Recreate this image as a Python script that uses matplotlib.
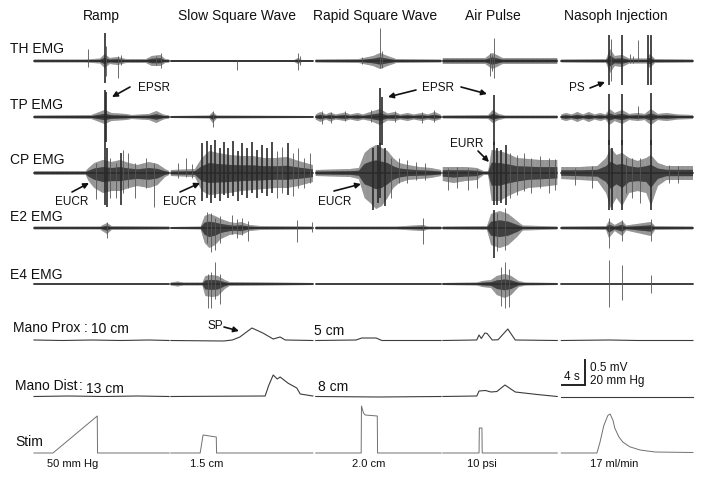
import numpy as np
import matplotlib.pyplot as plt

plt.rcParams['font.family'] = ['Liberation Sans', 'DejaVu Sans']
plt.rcParams['hatch.linewidth'] = 0.5

# panels (time in s, one continuous axis, small gaps between panels)
col_titles = ['Ramp', 'Slow Square Wave', 'Rapid Square Wave', 'Air Pulse', 'Nasoph Injection']
col_start = [0.0, 23.8, 49.0, 71.1, 91.7]
col_end = [23.5, 48.5, 70.8, 91.0, 114.6]
stim_labels = ['50 mm Hg', '1.5 cm', '2.0 cm', '10 psi', '17 ml/min']
row_labels = ['TH EMG', 'TP EMG', 'CP EMG', 'E2 EMG', 'E4 EMG']

# EMG envelopes: (time s, amplitude up mV, amplitude down mV)
th_env = [(0.0, .03, .03), (9.0, .03, .03), (11.5, .05, .05), (12.3, .14, .14), (13.2, .06, .06),
          (14.5, .08, .08), (16.0, .04, .04), (19.5, .04, .04), (20.5, .10, .10), (22.0, .12, .10),
          (22.8, .04, .04), (23.5, .03, .03),
          (23.8, .02, .02), (45.3, .02, .02), (45.9, .06, .06), (46.6, .02, .02), (48.5, .02, .02),
          (49.0, .03, .03), (56.5, .04, .04), (59.0, .10, .10), (60.2, .16, .16), (61.5, .10, .10),
          (63.0, .04, .04), (70.8, .03, .03),
          (71.1, .06, .06), (78.5, .06, .06), (79.7, .16, .16), (80.5, .12, .12), (81.5, .06, .06),
          (91.0, .06, .06),
          (91.7, .03, .03), (99.5, .04, .04), (100.2, .24, .24), (101.0, .10, .10), (102.3, .12, .12),
          (103.5, .05, .05), (106.6, .05, .05), (107.1, .14, .14), (108.0, .04, .04), (114.6, .03, .03)]
th_spk = [(9.4, .24, .12), (12.3, .56, .44), (12.6, .3, .3), (14.6, .1, .34), (15.1, .12, .08),
          (21.3, .1, .08), (22.1, .16, .14),
          (35.3, .02, .18), (45.9, .16, .18), (46.2, .1, .08),
          (57.0, .08, .06), (60.2, .66, .14), (60.5, .2, .14),
          (79.3, .16, .3), (79.6, .12, .2), (80.0, .46, .34),
          (100.0, .52, .48), (100.4, .45, .4), (102.3, .52, .48), (103.6, .14, .04), (104.2, .1, .04),
          (105.0, .42, .02), (106.8, .52, .48), (107.3, .52, .48)]

tp_env = [(0.0, .03, .03), (10.0, .04, .04), (12.3, .14, .14), (13.5, .08, .08), (16.0, .06, .06),
          (17.0, .04, .04), (20.0, .06, .06), (21.3, .12, .12), (22.5, .05, .05), (23.5, .03, .03),
          (23.8, .02, .02), (30.5, .03, .03), (31.1, .10, .12), (31.8, .03, .03), (48.5, .02, .02),
          (49.0, .05, .05), (49.8, .10, .10), (50.8, .05, .05), (51.5, .09, .09), (52.5, .05, .05),
          (54.1, .09, .08), (55.0, .05, .05), (56.3, .08, .08), (57.2, .05, .05), (58.5, .10, .08),
          (60.2, .16, .16), (61.5, .07, .07), (62.8, .10, .08), (63.7, .05, .05), (65.0, .08, .08),
          (66.0, .05, .05), (67.5, .08, .08), (68.5, .05, .05), (69.7, .10, .08), (70.8, .04, .04),
          (71.1, .03, .03), (79.0, .04, .04), (79.8, .14, .12), (80.8, .06, .06), (82.0, .03, .03),
          (91.0, .03, .03),
          (91.7, .05, .05), (92.5, .08, .08), (93.5, .05, .05), (94.5, .10, .10), (95.5, .05, .05),
          (96.5, .10, .10), (97.5, .05, .05), (98.5, .08, .08), (99.4, .05, .05), (100.1, .16, .16),
          (101.0, .08, .08), (102.3, .14, .14), (103.5, .06, .06), (105.0, .08, .08), (106.2, .06, .06),
          (107.3, .16, .16), (108.5, .06, .06), (110.0, .08, .08), (112.0, .05, .05), (114.6, .04, .04)]
tp_spk = [(12.3, .54, .56), (12.5, .5, .5), (31.1, .12, .2), (50.0, .12, .14), (51.6, .1, .12),
          (54.0, .12, .08), (58.6, .14, .1), (60.2, .58, .56), (60.5, .4, .56), (62.8, .12, .1),
          (67.4, .1, .12), (69.6, .14, .1),
          (80.0, .44, .56), (100.0, .46, .56), (102.3, .46, .56), (105.0, .22, .04), (107.3, .48, .56)]

cp_env = [(0.0, .04, .04), (9.0, .04, .04), (9.5, .10, .16), (10.5, .20, .30), (12.0, .26, .40),
          (13.5, .22, .36), (15.0, .26, .36), (16.5, .20, .30), (18.0, .16, .26), (20.0, .22, .30),
          (21.5, .18, .24), (22.8, .08, .08), (23.5, .04, .04),
          (23.8, .06, .06), (28.0, .08, .08), (29.2, .30, .36), (30.5, .44, .44), (32.0, .40, .42),
          (34.0, .36, .40), (36.0, .34, .36), (38.0, .34, .34), (40.0, .30, .32), (42.0, .30, .30),
          (44.0, .32, .30), (46.0, .24, .26), (48.5, .16, .18),
          (49.0, .06, .06), (55.0, .08, .08), (56.5, .10, .12), (57.5, .40, .50), (58.5, .50, .60),
          (59.5, .56, .72), (60.5, .50, .66), (61.5, .44, .50), (62.5, .30, .30), (63.5, .20, .20),
          (65.0, .16, .14), (67.0, .12, .12), (69.0, .10, .10), (70.8, .06, .06),
          (71.1, .12, .16), (73.0, .12, .20), (75.0, .12, .16), (77.0, .10, .14), (78.2, .04, .04),
          (79.0, .04, .04), (79.6, .46, .56), (81.0, .44, .56), (82.5, .38, .46), (84.0, .30, .38),
          (86.0, .28, .30), (88.0, .26, .28), (91.0, .26, .24),
          (91.7, .12, .12), (95.0, .12, .14), (98.0, .14, .16), (99.5, .30, .40), (100.3, .50, .70),
          (101.3, .36, .50), (102.3, .40, .66), (103.5, .30, .40), (105.0, .24, .36), (106.5, .30, .40),
          (107.3, .36, .66), (108.5, .20, .26), (110.0, .14, .14), (114.6, .14, .14)]
cp_spk = [(10.8, .2, .52), (12.3, .56, .64), (12.7, .5, .68), (13.2, .3, .5), (14.2, .2, .5),
          (15.1, .4, .64), (15.5, .46, .4), (16.3, .4, .3), (17.5, .2, .5), (19.5, .3, .3), (20.9, .2, .68),
          (25.0, .2, .1), (26.5, .3, .08), (27.5, .18, .1),
          (29.3, .6, .56), (30.0, .64, .5), (30.8, .56, .6), (31.5, .66, .5), (32.3, .5, .56),
          (33.0, .62, .44), (33.8, .5, .5), (34.6, .64, .46), (35.4, .44, .56), (36.2, .6, .44),
          (37.0, .5, .5), (37.9, .62, .4), (38.8, .46, .5), (39.6, .56, .4), (40.5, .5, .46),
          (41.4, .62, .4), (42.3, .44, .5), (43.2, .52, .4), (44.1, .6, .44), (45.0, .4, .46),
          (45.9, .5, .3), (47.0, .3, .3), (48.0, .4, .2),
          (59.0, .5, .74), (59.8, .56, .6), (60.2, .6, .5), (61.0, .5, .66), (62.0, .3, .5),
          (63.5, .3, .2), (64.8, .26, .2), (66.5, .22, .14), (68.0, .2, .14),
          (72.0, .1, .34), (73.5, .12, .3), (75.5, .1, .34), (77.0, .08, .3), (80.0, .62, .64),
          (80.6, .5, .64), (81.3, .46, .6), (82.0, .56, .64), (82.8, .4, .5), (84.0, .36, .44),
          (85.3, .4, .36), (86.5, .3, .4), (88.0, .34, .3), (89.5, .3, .4), (90.6, .28, .34),
          (94.0, .1, .24), (97.0, .14, .3), (100.0, .66, .74), (100.5, .5, .74), (102.3, .66, .74),
          (103.0, .3, .4), (104.0, .3, .5), (105.4, .3, .6), (107.3, .66, .74), (110.5, .16, .2),
          (112.0, .14, .2)]

e2_env = [(0.0, .03, .03), (11.5, .03, .03), (12.7, .10, .12), (13.5, .04, .04), (23.5, .03, .03),
          (23.8, .02, .02), (29.0, .03, .03), (29.7, .24, .30), (30.5, .28, .40), (31.5, .24, .34),
          (32.5, .18, .22), (34.0, .12, .14), (35.0, .10, .12), (36.0, .12, .14), (37.5, .06, .06),
          (39.3, .04, .04), (48.5, .03, .03),
          (49.0, .03, .03), (63.0, .03, .03), (67.7, .06, .06), (68.5, .03, .03), (70.8, .03, .03),
          (71.1, .03, .03), (78.8, .04, .04), (79.5, .28, .34), (81.0, .34, .40), (82.5, .28, .34),
          (84.0, .14, .18), (85.0, .05, .05), (91.0, .03, .03),
          (91.7, .03, .03), (99.5, .04, .04), (100.0, .14, .20), (101.0, .06, .06), (102.3, .14, .16),
          (103.0, .05, .05), (107.3, .12, .16), (108.0, .04, .04), (114.6, .03, .03)]
e2_spk = [(12.7, .12, .2), (30.0, .32, .3), (30.7, .3, .48), (31.4, .2, .44), (32.3, .24, .3),
          (34.4, .26, .12), (35.3, .18, .2), (36.2, .2, .14), (37.2, .14, .26), (45.7, .16, .28),
          (48.3, .12, .08), (67.7, .2, .32), (80.0, .36, .6), (80.5, .3, .46), (81.9, .4, .44),
          (100.0, .2, .4), (102.3, .16, .26), (107.3, .18, .26)]

e4_env = [(0.0, .02, .02), (23.5, .02, .02),
          (23.8, .03, .03), (25.0, .05, .05), (26.0, .03, .03), (29.3, .03, .03), (29.8, .16, .24),
          (31.0, .18, .26), (32.0, .16, .24), (33.2, .08, .10), (34.0, .04, .04), (48.5, .02, .02),
          (49.0, .02, .02), (70.8, .02, .02),
          (71.1, .02, .02), (77.0, .03, .03), (78.0, .06, .06), (79.5, .08, .08), (80.5, .16, .22),
          (81.9, .20, .28), (83.0, .16, .22), (84.3, .06, .06), (85.5, .03, .03), (91.0, .02, .02),
          (91.7, .02, .02), (114.6, .02, .02)]
e4_spk = [(30.2, .2, .48), (30.8, .24, .48), (31.5, .44, .3), (32.3, .2, .4),
          (81.3, .34, .44), (81.9, .44, .48), (82.6, .3, .46),
          (100.0, .48, .46), (102.3, .38, .32), (107.3, .18, .18)]

# manometry, mm Hg above baseline
mano_prox = [(0.0, 0.8), (5.0, 0.4), (10.0, 0.8), (15.0, 0.4), (20.0, 0.8), (23.5, 0.4),
             (23.8, 0.4), (33.0, 0.0), (34.5, 0.8), (35.8, 3.2), (37.9, 10.4), (39.8, 6.4),
             (41.6, 1.6), (42.8, 3.2), (43.7, 0.8), (48.5, 0.4),
             (49.0, 0.4), (56.0, 0.8), (57.0, 2.4), (59.5, 2.4), (60.5, 0.4), (70.8, 0.4),
             (71.1, 0.4), (77.0, 0.8), (77.4, 4.8), (77.8, 2.0), (78.4, 6.4), (78.8, 6.0),
             (79.7, 0.8), (80.7, 1.0), (82.4, 9.6), (83.7, 0.8), (91.0, 0.4),
             (91.7, 0.4), (100.0, 0.8), (105.0, 0.4), (114.6, 0.4)]
mano_dist = [(0.0, 0.4), (6.0, 0.8), (12.0, 0.4), (18.0, 0.8), (23.5, 0.4),
             (23.8, 0.4), (40.2, 0.8), (40.8, 9.0), (41.6, 17.6), (42.3, 14.4), (42.8, 16.0),
             (44.2, 11.0), (45.7, 7.2), (46.3, 2.4), (48.5, 0.8),
             (49.0, 0.4), (60.0, 0.0), (70.8, 0.4),
             (71.1, 0.4), (77.0, 0.8), (77.4, 4.8), (78.5, 5.2), (79.5, 4.0), (80.5, 4.4),
             (81.9, 9.6), (83.7, 4.0), (87.5, 2.0), (91.0, 0.4),
             (91.7, 0.4), (114.6, 0.4)]
# stimulus trace, arbitrary units
stim = [(0.0, 0), (3.3, 0), (11.0, 29.6), (11.05, 0), (23.5, 0),
        (23.8, 0), (28.9, 0), (29.4, 14.4), (31.7, 12.8), (31.75, 0), (48.5, 0),
        (49.0, 0), (56.9, 0), (56.95, 37.6), (57.3, 32.0), (57.6, 30.4), (59.7, 29.6), (59.75, 0), (70.8, 0),
        (71.1, 0), (77.4, 0), (77.45, 20.0), (77.9, 20.0), (77.95, 0), (91.0, 0),
        (91.7, 0), (97.9, 0), (98.4, 8), (99.1, 22), (99.8, 30), (100.2, 31.2), (100.7, 26),
        (101.0, 20), (101.7, 13), (102.4, 8.8), (103.6, 5), (105.4, 2.4), (108.0, 0.8), (114.6, 0.4)]

MV = 50.0     # px per mV
MMHG = 1.25   # px per mm Hg
W, H = 701, 488
T0, PXS = 34.0, 5.75   # first trace pixel, px per second

fig = plt.figure(figsize=(W / 100, H / 100), dpi=100)
ax = fig.add_axes([0, 0, 1, 1])
ax.set_xlim(-T0 / PXS, (W - T0) / PXS)
ax.set_ylim(-H, 0)
ax.axis('off')


def split_cols(arr):
    arr = np.array(arr, dtype=float)
    for a, b in zip(col_start, col_end):
        yield arr[(arr[:, 0] >= a - 1e-6) & (arr[:, 0] <= b + 1e-6)]


def draw_emg(env, spk, base):
    for seg in split_cols(env):
        t, up, dn = seg[:, 0], seg[:, 1], seg[:, 2]
        ax.fill_between(t, base + up * MV, base - dn * MV, facecolor='#cfcfcf',
                        edgecolor='#8c8c8c', hatch='|' * 20, lw=0)
        ax.fill_between(t, base + 0.45 * up * MV, base - 0.45 * dn * MV, facecolor='#777777',
                        edgecolor='#404040', hatch='|' * 24, lw=0)
        ax.plot(t, np.full(len(t), base), color='#2a2a2a', lw=1.1)
    spk = np.array(spk)
    big = (spk[:, 1] + spk[:, 2]) > 0.95
    ax.vlines(spk[~big, 0], base - spk[~big, 2] * MV, base + spk[~big, 1] * MV, color='#555555', lw=0.6)
    ax.vlines(spk[big, 0], base - spk[big, 2] * MV, base + spk[big, 1] * MV, color='#2a2a2a', lw=1.2)


def draw_line(data, base, scale, color, lw):
    for seg in split_cols(data):
        ax.plot(seg[:, 0], base + seg[:, 1] * scale, color=color, lw=lw)


emg_bases = [-61, -117, -173, -228, -284]
draw_emg(th_env, th_spk, emg_bases[0])
draw_emg(tp_env, tp_spk, emg_bases[1])
draw_emg(cp_env, cp_spk, emg_bases[2])
draw_emg(e2_env, e2_spk, emg_bases[3])
draw_emg(e4_env, e4_spk, emg_bases[4])
draw_line(mano_prox, -341, MMHG, '#3c3c3c', 0.8)
draw_line(mano_dist, -397, MMHG, '#3c3c3c', 0.8)
draw_line(stim, -453, MMHG, '#707070', 0.7)

# scale bar: 4 s, 0.5 mV / 20 mm Hg
sb_t, sb_y = 91.8, -385
ax.plot([sb_t, sb_t + 4], [sb_y, sb_y], color='#222222', lw=1.4)
ax.plot([sb_t + 4, sb_t + 4], [sb_y, sb_y + 0.5 * MV], color='#222222', lw=1.4)


def ftext(x, y, s, size=10, ha='left'):
    fig.text(x / W, 1 - y / H, s, fontsize=size, ha=ha, va='center', color='#111111')


def arrow(x0, y0, x1, y1):
    ax.annotate('', xy=(x1, H - y1), xytext=(x0, H - y0), xycoords='figure pixels',
                textcoords='figure pixels',
                arrowprops=dict(arrowstyle='-|>', color='#111111', lw=1.2,
                                mutation_scale=8, shrinkA=0, shrinkB=0))


for x, s in zip([101, 237, 375, 493, 616], col_titles):
    ftext(x, 16, s, ha='center')
for y, s in zip([49, 105, 160, 217, 275], row_labels):
    ftext(10, y, s)
ftext(13, 328, 'Mano Prox')
ftext(84, 328, ':')
ftext(91, 329, '10 cm')
ftext(15, 386, 'Mano Dist')
ftext(79, 386, ':')
ftext(86, 389, '13 cm')
ftext(314, 331, '5 cm')
ftext(318, 387, '8 cm')
ftext(15, 442, 'Stim')
for x, s in zip([73, 207, 369, 482, 614], stim_labels):
    ftext(x, 464, s, size=8, ha='center')

ftext(138, 88, 'EPSR', 8.5)
ftext(422, 88, 'EPSR', 8.5)
ftext(569, 88, 'PS', 8.5)
ftext(55, 202, 'EUCR', 8.5)
ftext(163, 202, 'EUCR', 8.5)
ftext(318, 202, 'EUCR', 8.5)
ftext(450, 144, 'EURR', 8.5)
ftext(207, 326, 'SP', 8.5)
arrow(130, 87, 112, 97)
arrow(416, 90, 388, 97)
arrow(461, 87, 487, 94)
arrow(590, 88, 605, 82)
arrow(72, 192, 89, 183)
arrow(180, 192, 200, 183)
arrow(334, 191, 361, 184)
arrow(478, 151, 489, 162)
arrow(224, 327, 239, 331)

ftext(564, 377, '4 s', 8.5)
ftext(590, 368, '0.5 mV', 8.5)
ftext(590, 381, '20 mm Hg', 8.5)

fig.savefig('out.png', dpi=100)
